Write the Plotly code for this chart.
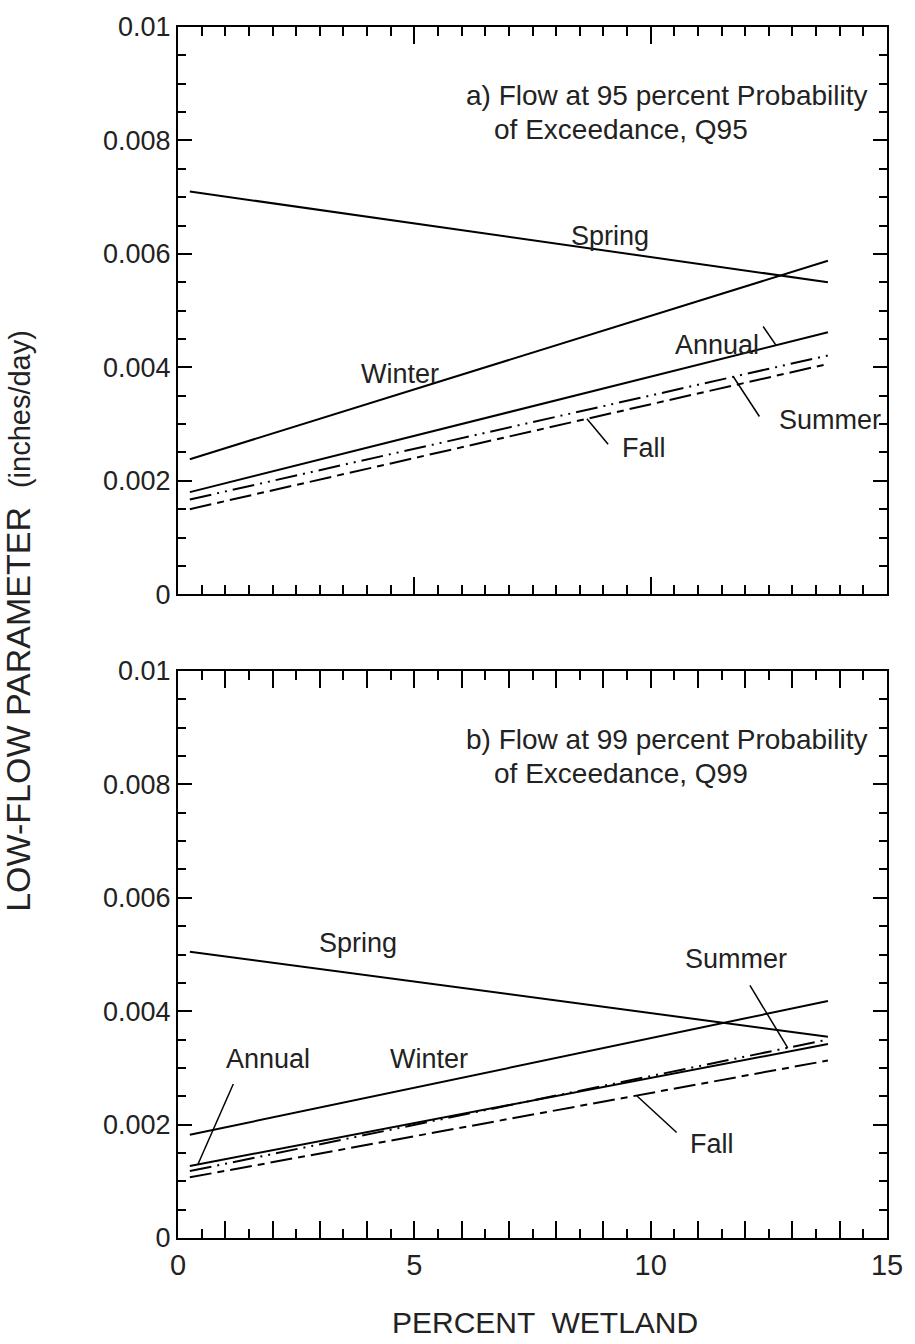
import numpy as np
import plotly.graph_objects as go

# percent wetland at the two ends of each regression line
x_ends = [0.25, 13.75]

# a) Q95 low-flow parameter (inches/day)
q95_spring = [0.00710, 0.00550]
q95_winter = [0.00238, 0.00588]
q95_annual = [0.00180, 0.00462]
q95_summer = [0.00167, 0.00421]
q95_fall = [0.00150, 0.00406]

# b) Q99 low-flow parameter (inches/day)
q99_spring = [0.00505, 0.00355]
q99_winter = [0.00182, 0.00418]
q99_annual = [0.00127, 0.00342]
q99_summer = [0.00118, 0.00350]
q99_fall = [0.00107, 0.00313]

y_tick_vals = [0, 0.002, 0.004, 0.006, 0.008, 0.01]
y_tick_text = ["0", "0.002", "0.004", "0.006", "0.008", "0.01"]
x_tick_labels = ["0", "5", "10", "15"]

FONT = "Liberation Sans, Arial, sans-serif"

styles = {
    "Spring": dict(color="black", width=2),
    "Winter": dict(color="black", width=2),
    "Annual": dict(color="black", width=2),
    "Summer": dict(color="black", width=2, dash="22px,6px,2px,6px,2px,6px"),
    "Fall": dict(color="black", width=2, dash="22px,6px,7px,6px"),
}

panels = [
    ("x", "y", {"Spring": q95_spring, "Winter": q95_winter, "Annual": q95_annual,
                "Summer": q95_summer, "Fall": q95_fall}),
    ("x2", "y2", {"Spring": q99_spring, "Winter": q99_winter, "Annual": q99_annual,
                  "Summer": q99_summer, "Fall": q99_fall}),
]

fig = go.Figure()
for xa, ya, series in panels:
    for name, vals in series.items():
        fig.add_trace(go.Scatter(x=x_ends, y=vals, mode="lines", name=name,
                                 line=styles[name], xaxis=xa, yaxis=ya,
                                 showlegend=False, hoverinfo="skip"))

# x ticks every 1 (long) and 0.5 (short), labels only at multiples of 5
x_major = list(range(0, 16))
x_text = [str(v) if str(v) in x_tick_labels else "" for v in x_major]

axis_common = dict(showline=True, linewidth=2, linecolor="black", mirror="ticks",
                   ticks="inside", tickcolor="black", tickwidth=1.5,
                   showgrid=False, zeroline=False,
                   tickfont=dict(family=FONT, size=27, color="#222"))
xcommon = dict(axis_common, range=[0, 15], tickvals=x_major, ticktext=x_text,
               ticklen=17, minor=dict(ticks="inside", dtick=0.5, ticklen=9,
                                      tickcolor="black", tickwidth=1.5))
ycommon = dict(axis_common, range=[0, 0.01], tickvals=y_tick_vals, ticktext=y_tick_text,
               ticklen=14, minor=dict(ticks="inside", dtick=0.0005, ticklen=8,
                                      tickcolor="black", tickwidth=1.5))

fig.update_layout(
    width=915, height=1344,
    margin=dict(l=178, r=17, t=23, b=106),
    paper_bgcolor="white", plot_bgcolor="white",
    xaxis=dict(xcommon, domain=[0, 1], anchor="y", showticklabels=False),
    yaxis=dict(ycommon, domain=[0.5316, 1], anchor="x"),
    xaxis2=dict(xcommon, domain=[0, 1], anchor="y2", ticklabelstandoff=0,
                tickfont=dict(family=FONT, size=29, color="#222")),
    yaxis2=dict(ycommon, domain=[0, 0.4682], anchor="x2"),
)

lab_font = dict(family=FONT, size=27, color="#222")

def label(text, x, y, xa, ya, size=27, **kw):
    fig.add_annotation(text=text, x=x, y=y, xref=xa, yref=ya, showarrow=False,
                       font=dict(lab_font, size=size), **kw)

def leader(xp, series, dx, dy, xa, ya):
    # short line from a point on a series out towards its label
    yp = float(np.interp(xp, x_ends, series))
    fig.add_shape(type="line", x0=xp, y0=yp, x1=xp + dx, y1=yp + dy,
                  xref=xa, yref=ya, line=dict(color="black", width=1.5))

# panel a
label("a) Flow at 95 percent Probability", 6.05, 0.00880, "x", "y", size=28, xanchor="left")
label("of Exceedance, Q95", 6.65, 0.00820, "x", "y", size=28, xanchor="left")
label("Spring", 9.15, 0.00632, "x", "y")
label("Winter", 4.7, 0.00388, "x", "y")
label("Annual", 11.4, 0.00440, "x", "y")
label("Summer", 13.8, 0.00308, "x", "y")
label("Fall", 9.85, 0.00258, "x", "y")
leader(12.65, q95_annual, -0.27, 0.00033, "x", "y")
leader(11.75, q95_summer, 0.55, -0.00070, "x", "y")
leader(8.65, q95_fall, 0.45, -0.00045, "x", "y")

# panel b
label("b) Flow at 99 percent Probability", 6.05, 0.00880, "x2", "y2", size=28, xanchor="left")
label("of Exceedance, Q99", 6.65, 0.00820, "x2", "y2", size=28, xanchor="left")
label("Spring", 3.8, 0.00520, "x2", "y2")
label("Winter", 5.3, 0.00315, "x2", "y2")
label("Annual", 1.9, 0.00315, "x2", "y2")
label("Summer", 11.8, 0.00492, "x2", "y2")
label("Fall", 11.3, 0.00165, "x2", "y2")
leader(0.42, q99_annual, 0.75, 0.00142, "x2", "y2")
leader(12.9, q99_summer, -0.8, 0.00110, "x2", "y2")
leader(9.7, q99_fall, 0.85, -0.00065, "x2", "y2")

# shared axis titles
fig.add_annotation(text="LOW-FLOW PARAMETER  <span style='font-size:29px'>(inches/day)</span>",
                   textangle=-90, x=-0.225, y=0.51, xref="paper", yref="paper",
                   xanchor="center", yanchor="middle",
                   showarrow=False, font=dict(family=FONT, size=34, color="#222"))
fig.add_annotation(text="PERCENT  WETLAND", x=0.517, y=-0.07, xref="paper", yref="paper",
                   xanchor="center", yanchor="middle",
                   showarrow=False, font=dict(family=FONT, size=30, color="#222"))

# drop the default page margin so the figure sits at the window's corner
fig.write_html("out.html", config={"displayModeBar": False},
               post_script="document.body.style.margin='0';")
